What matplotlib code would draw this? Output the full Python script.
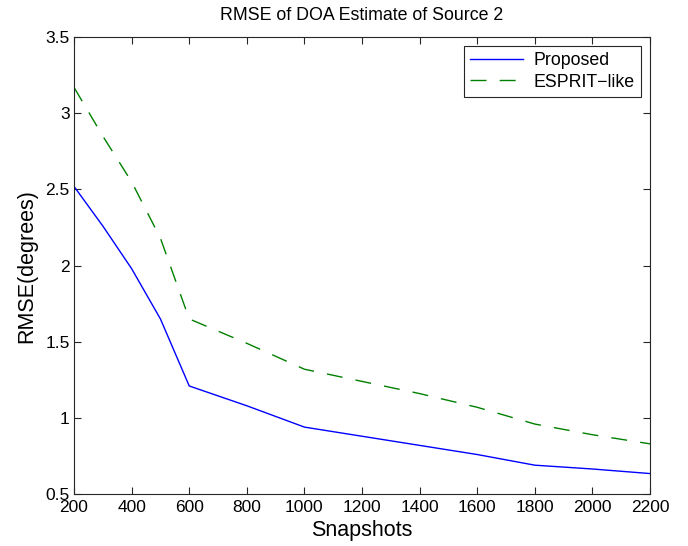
import numpy as np
import matplotlib
matplotlib.use('Agg')
import matplotlib.pyplot as plt

plt.rcParams['font.family'] = ['Liberation Sans', 'DejaVu Sans']
plt.rcParams['axes.edgecolor'] = '#262626'
plt.rcParams['xtick.color'] = '#262626'
plt.rcParams['ytick.color'] = '#262626'

snapshots = [200, 300, 400, 500, 600, 800, 1000, 1200, 1400, 1600, 1800, 2000, 2200]
rmse_proposed = [2.52, 2.26, 1.98, 1.65, 1.21, 1.08, 0.94, 0.88, 0.82, 0.76, 0.69, 0.665, 0.635]
rmse_esprit = [3.17, 2.85, 2.55, 2.18, 1.65, 1.49, 1.32, 1.24, 1.16, 1.07, 0.96, 0.89, 0.83]

fig = plt.figure(figsize=(6.88, 5.46), dpi=100)
ax = fig.add_axes([0.1076, 0.095, 0.8372, 0.837])
ax.plot(snapshots, rmse_proposed, color='#0000ff', lw=1.0, linestyle='-', label='Proposed')
ax.plot(snapshots, rmse_esprit, color='#008000', lw=1.0, linestyle=(0, (11.5, 9.5)), label='ESPRIT\u2212like')

ax.set_xlim(200, 2200)
ax.set_ylim(0.5, 3.5)
ax.set_xticks(np.arange(200, 2201, 200))
ax.set_yticks(np.arange(0.5, 3.51, 0.5))
ax.set_yticklabels(['0.5', '1', '1.5', '2', '2.5', '3', '3.5'])
ax.tick_params(direction='in', top=True, right=True, labelsize=12.5, length=5,
               labelcolor='black')
ax.tick_params(axis='x', pad=4.5)
ax.tick_params(axis='y', pad=3)
ax.set_xlabel('Snapshots', fontsize=15.5, labelpad=3)
ax.set_ylabel('RMSE(degrees)', fontsize=15.5, labelpad=6)
ax.set_title('RMSE of DOA Estimate of Source 2', fontsize=12.8, pad=12)

leg = ax.legend(loc='upper right', fontsize=12.8, fancybox=False, edgecolor='#262626',
                framealpha=1, handlelength=3.0, borderaxespad=0.5, borderpad=0.35,
                labelspacing=0.25, handletextpad=0.6)
leg.get_frame().set_linewidth(0.8)

fig.savefig('out.png', dpi=100)
